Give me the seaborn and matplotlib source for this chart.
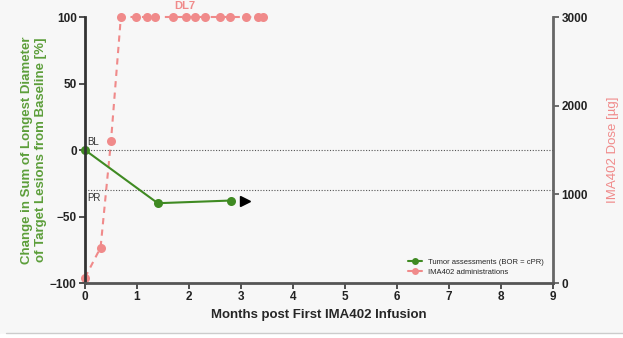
import numpy as np
import pandas as pd
import seaborn as sns
import matplotlib
matplotlib.use('Agg')
import matplotlib.pyplot as plt
from matplotlib.lines import Line2D

# tumor assessments (% change from baseline)
tumor_months = [0, 1.4, 2.8]
tumor_change = [0, -40, -38]

# IMA402 administrations (dose in ug)
dose_months = [0, 0.3, 0.5, 0.69, 0.98, 1.2, 1.35, 1.69, 1.94, 2.12, 2.3, 2.6, 2.79, 3.1, 3.33, 3.43]
dose_ug = [60, 400, 1600, 3000, 3000, 3000, 3000, 3000, 3000, 3000, 3000, 3000, 3000, 3000, 3000, 3000]

green = '#3f8a22'
green_lbl = '#5c9e3a'
pink = '#f08a8a'
bg = '#f7f7f7'

sns.set_style('ticks')
plt.rcParams['font.family'] = ['Liberation Sans', 'DejaVu Sans']

fig = plt.figure(figsize=(6.23, 3.38), dpi=100, facecolor=bg)
ax = fig.add_axes([0.1364, 0.1627, 0.7512, 0.787])
ax.set_facecolor(bg)
ax2 = ax.twinx()

tumor = pd.DataFrame({'month': tumor_months, 'change': tumor_change})
dose = pd.DataFrame({'month': dose_months, 'dose': dose_ug})

sns.lineplot(data=dose, x='month', y='dose', ax=ax2, color=pink, marker='o',
             markersize=6.5, markeredgewidth=0, linestyle=(0, (3, 2.5)), lw=1.5,
             legend=False, clip_on=False)
sns.lineplot(data=tumor, x='month', y='change', ax=ax, color=green, marker='o',
             markersize=6.5, markeredgewidth=0, lw=1.5, legend=False, clip_on=False)
ax.set_zorder(ax2.get_zorder() + 1)
ax.patch.set_visible(False)
ax2.patch.set_visible(True)
ax2.set_facecolor(bg)

# ongoing arrow
ax.plot([3.08], [-38], marker='>', color='black', markersize=7, clip_on=False)

# reference lines
ax.axhline(0, color='#555555', ls=(0, (1, 1.5)), lw=0.8, zorder=0)
ax.axhline(-30, color='#555555', ls=(0, (1, 1.5)), lw=0.8, zorder=0)
ax.text(0.05, 2, 'BL', fontsize=7, color='#333333', va='bottom')
ax.text(0.05, -32, 'PR', fontsize=7, color='#333333', va='top')

ax.set_xlim(0, 9)
ax.set_ylim(-100, 100)
ax2.set_ylim(0, 3000)
ax.set_xticks(range(0, 10))
ax.set_yticks([-100, -50, 0, 50, 100])
ax2.set_yticks([0, 1000, 2000, 3000])

for a in (ax, ax2):
    for s in a.spines.values():
        s.set_visible(False)
ax.spines['left'].set_visible(True)
ax.spines['bottom'].set_visible(True)
ax2.spines['right'].set_visible(True)
ax.spines['left'].set_color('#333333')
ax.spines['bottom'].set_color('#555555')
ax2.spines['right'].set_color('#666666')
for s in (ax.spines['left'], ax.spines['bottom'], ax2.spines['right']):
    s.set_linewidth(2)

ax.tick_params(axis='both', labelsize=8.5, width=1.2, length=4, color='#333333', pad=2)
ax2.tick_params(axis='y', labelsize=8.5, width=1.2, length=4, color='#555555', pad=2)
for lbl in ax.get_xticklabels() + ax.get_yticklabels() + ax2.get_yticklabels():
    lbl.set_fontweight('bold')
    lbl.set_color('#222222')

ax.set_xlabel('Months post First IMA402 Infusion', fontsize=9.5, fontweight='bold', labelpad=4)
ax.set_ylabel('Change in Sum of Longest Diameter\nof Target Lesions from Baseline [%]',
              fontsize=9.5, fontweight='bold', color=green_lbl, labelpad=2)
ax2.set_ylabel('IMA402 Dose [µg]', fontsize=9.5, color=pink, labelpad=14)

handles = [Line2D([], [], color=green, marker='o', markersize=5, lw=1.5, markeredgewidth=0),
           Line2D([], [], color=pink, marker='o', markersize=5, lw=1.5, markeredgewidth=0)]
ax.legend(handles, ['Tumor assessments (BOR = cPR)', 'IMA402 administrations'],
          loc='lower right', bbox_to_anchor=(0.995, 0.0), fontsize=5.5, frameon=False,
          handlelength=1.8, labelspacing=0.4)

# title at the top (cut in the source image)
fig.text(185 / 623, 0.998, 'DL7', color=pink, fontsize=8, fontweight='bold', ha='center', va='top')

# bottom separator line
fig.add_artist(Line2D([0.01, 1.0], [0.015, 0.015], color='#cccccc', lw=1))
fig.add_artist(plt.Rectangle((0, 0), 1, 0.013, color='white', transform=fig.transFigure))

fig.savefig('out.png', dpi=100, facecolor=bg)
